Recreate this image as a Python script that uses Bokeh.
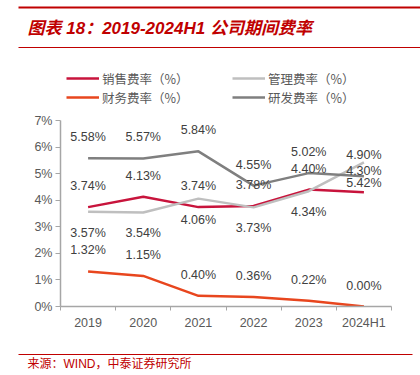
from bokeh.plotting import figure
from bokeh.layouts import column
from bokeh.models import (Range1d, FixedTicker, PrintfTickFormatter, Legend, LegendItem,
                          ColumnDataSource)
from bokeh.core.properties import value
from bokeh.embed import file_html
from bokeh.resources import INLINE

# ---------------- data ----------------
categories = ["2019", "2020", "2021", "2022", "2023", "2024H1"]
sales_rate = [3.74, 4.13, 3.74, 3.78, 4.40, 4.30]      # 销售费率
admin_rate = [3.57, 3.54, 4.06, 3.73, 4.34, 5.42]      # 管理费率
finance_rate = [1.32, 1.15, 0.40, 0.36, 0.22, 0.00]    # 财务费率
rd_rate = [5.58, 5.57, 5.84, 4.55, 5.02, 4.90]         # 研发费率
y_ticks = [0, 1, 2, 3, 4, 5, 6, 7]

title_text = "图表 18：2019-2024H1 公司期间费率"
source_text = "来源：WIND，中泰证券研究所"
series_names = ["销售费率（%）", "管理费率（%）", "财务费率（%）", "研发费率（%）"]

# ---------------- layout constants ----------------
W = 420
TOP_H, MAIN_H, BOT_H = 108, 232, 35
RED = "#C00000"
colors = ["#C8143C", "#BFBFBF", "#E8461E", "#7F7F7F"]
LAT = "Liberation Sans"
CJK = "Noto Sans CJK SC"
MIX = LAT + ", " + CJK


def plain_fig(h):
    f = figure(width=W, height=h, output_backend="svg", toolbar_location=None,
               x_range=Range1d(0, W), y_range=Range1d(h, 0),
               x_axis_type=None, y_axis_type=None, frame_align=False,
               min_border=0, min_border_left=0, min_border_right=0,
               min_border_top=0, min_border_bottom=0)
    f.outline_line_color = None
    f.background_fill_color = "white"
    f.border_fill_color = "white"
    return f


# ---------------- header: title, rules, legend ----------------
top = plain_fig(TOP_H)
top.segment(x0=[18], y0=[7], x1=[420], y1=[7], line_color=RED, line_width=2.2)
top.segment(x0=[18], y0=[47], x1=[420], y1=[47], line_color=RED, line_width=1.0)
top.text(x=[27], y=[28], text=[title_text], text_font=value(MIX), text_font_size="17px",
         text_font_style="bold italic", text_color=RED, text_baseline="middle",
         text_align="left")

nan = float("nan")
legend_renderers = [top.line(x=[nan], y=[nan], line_color=c, line_width=2.5) for c in colors]


def make_legend(idx, cx, cy_bottom):
    items = [LegendItem(label=series_names[i], renderers=[legend_renderers[i]]) for i in idx]
    lg = Legend(items=items, orientation="vertical",
                location=(cx, TOP_H - cy_bottom),
                glyph_width=33, glyph_height=14, label_height=14, spacing=0,
                label_standoff=3, padding=0, margin=0,
                border_line_color=None, background_fill_alpha=0,
                label_text_font=CJK, label_text_font_size="12.5px",
                label_text_color="#595959")
    top.add_layout(lg, "center")


make_legend([0, 2], 66, 106.5)
make_legend([1, 3], 232, 106.5)

# ---------------- main chart ----------------
FL, FR = 60, 391
p = figure(width=W, height=MAIN_H, output_backend="svg", toolbar_location=None,
           x_range=Range1d(-0.5, len(categories) - 0.5), y_range=Range1d(0, 7),
           frame_align=False,
           min_border_left=FL, min_border_right=W - FR, min_border_top=12,
           min_border_bottom=34)
p.outline_line_color = None
p.xgrid.visible = False
p.ygrid.visible = False
p.background_fill_color = "white"
p.border_fill_color = "white"

xs = list(range(len(categories)))
series = [sales_rate, admin_rate, finance_rate, rd_rate]
for vals, c in zip(series, colors):
    p.line(xs, vals, line_color=c, line_width=2.5)

# data labels (offset above / below the point as in the source chart)
label_offsets = [-21, 21, -21, -21]
for vals, off in zip(series, label_offsets):
    src = ColumnDataSource(dict(x=xs, y=vals, t=["%.2f%%" % v for v in vals]))
    p.text("x", "y", text="t", source=src, y_offset=off, text_align="center",
           text_baseline="middle", text_font=value(LAT), text_font_size="12.5px",
           text_color="#404040")

axis_color = "#A6A6A6"
xa = p.xaxis[0]
xa.ticker = FixedTicker(ticks=xs, minor_ticks=[i - 0.5 for i in range(len(categories) + 1)])
xa.major_label_overrides = {i: c for i, c in enumerate(categories)}
xa.major_tick_out = 0
xa.major_tick_in = 0
xa.minor_tick_out = 4
xa.minor_tick_in = 0
xa.minor_tick_line_color = axis_color
xa.axis_line_color = axis_color
xa.axis_line_width = 1.5
xa.major_label_text_font = LAT
xa.major_label_text_font_size = "12.5px"
xa.major_label_text_color = "#595959"
xa.major_label_standoff = 5

ya = p.yaxis[0]
ya.ticker = FixedTicker(ticks=y_ticks, minor_ticks=[])
ya.formatter = PrintfTickFormatter(format="%d%%")
ya.major_tick_out = 5
ya.major_tick_in = 0
ya.major_tick_line_color = axis_color
ya.axis_line_color = axis_color
ya.axis_line_width = 1.5
ya.major_label_text_font = LAT
ya.major_label_text_font_size = "12.5px"
ya.major_label_text_color = "#595959"
ya.major_label_standoff = 3

# ---------------- footer: rule and source ----------------
bot = plain_fig(BOT_H)
bot.segment(x0=[18], y0=[14], x1=[412], y1=[14], line_color=RED, line_width=1.0)
bot.text(x=[27], y=[23], text=[source_text], text_font=value(MIX), text_font_size="12px",
         text_color=RED, text_baseline="middle", text_align="left")

layout = column(top, p, bot, spacing=0)
open("out.html", "w").write(file_html(layout, INLINE))
